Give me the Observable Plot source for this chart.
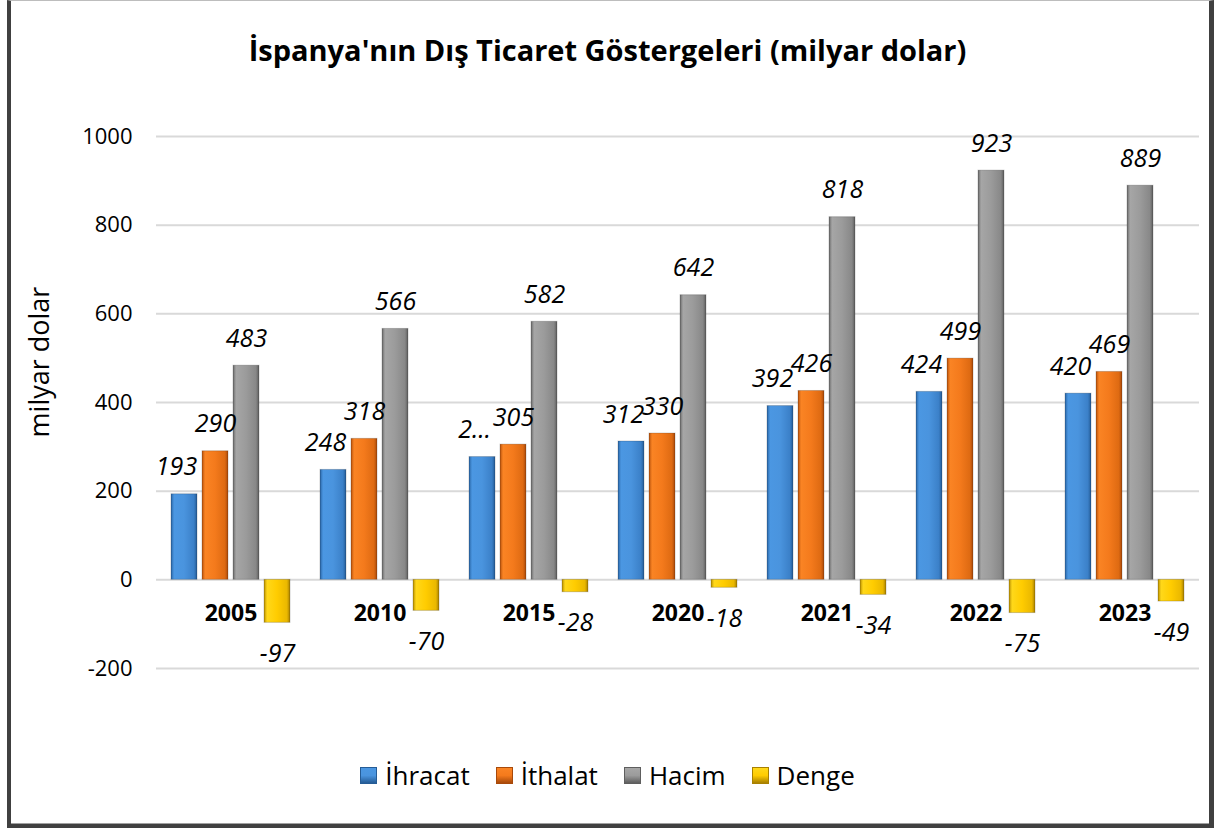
<!DOCTYPE html>
<html>
<head>
<meta charset="utf-8">
<script src="https://cdn.jsdelivr.net/npm/d3@7"></script>
<script src="https://cdn.jsdelivr.net/npm/@observablehq/plot@0.6"></script>
<style>
  html, body { margin: 0; padding: 0; background: #fff; }
  #wrap { position: relative; width: 1215px; height: 828px; overflow: hidden; font-family: "Open Sans", Lato, sans-serif; }
  #frame { position: absolute; left: 7px; top: 0; width: 1198px; height: 823px;
           border-left: 4px solid #404040; border-right: 5px solid #404040; border-bottom: 4px solid #404040;
           border-top: 1px solid #bdbdbd; box-sizing: content-box; }
  #frame .inner { position:absolute; left:0; right:0; bottom:0; height:1px; background:#a0a0a0; }
  #chart { position: absolute; left: 0; top: 0; }
  #title { position: absolute; left: 0; width: 1215px; top: 31px; line-height: 38px; text-align: center; font-weight: 700; font-size: 29px; color: #000; white-space: nowrap; }
  #ylabel { position: absolute; left: 38px; top: 362px; transform: translate(-50%, -50%) rotate(-90deg); white-space: nowrap; font-size: 27px; color:#000; }
  #legend { position: absolute; left: 0; width: 1215px; top: 758px; height: 34px; display: flex; justify-content: center; align-items: center; font-size: 26px; color: #000; }
  .item { display: flex; align-items: center; margin: 0 13px; }
  .sw { width: 17px; height: 17px; margin-right: 8px; box-sizing: border-box; }
</style>
</head>
<body>
<div id="wrap">
  <div id="frame"><div class="inner"></div></div>
  <div id="chart"></div>
  <div id="title">İspanya'nın Dış Ticaret Göstergeleri (milyar dolar)</div>
  <div id="ylabel">milyar dolar</div>
  <div id="legend"></div>
</div>
<script>
// ---- data ----
const years = ["2005", "2010", "2015", "2020", "2021", "2022", "2023"];
const series = ["İhracat", "İthalat", "Hacim", "Denge"];
const ihracat = [193, 248, 277, 312, 392, 424, 420];
const ithalat = [290, 318, 305, 330, 426, 499, 469];
const hacim   = [483, 566, 582, 642, 818, 923, 889];
const denge   = [-97, -70, -28, -18, -34, -75, -49];
const yTicks  = [-200, 0, 200, 400, 600, 800, 1000];
const truncatedLabels = [["2015", "İhracat", "2…"]];

// ---- styles ----
const gradients = {
  "İhracat": ["#2a66a6", "#4b97e2", "#4a94de", "#3b80c8", "#255c96"],
  "İthalat": ["#b8520c", "#fa8424", "#f47a1c", "#de6a12", "#a8490a"],
  "Hacim":   ["#6a6a6a", "#a6a6a6", "#9b9b9b", "#888888", "#5e5e5e"],
  "Denge":   ["#b88e00", "#ffd81a", "#ffcc00", "#eab800", "#a88000"]
};
const gradIds = series.map((s, i) => "grad" + i);
const FONT = "'Open Sans', Lato, sans-serif";

const valueArrays = [ihracat, ithalat, hacim, denge];
const rows = years.flatMap((y, i) => series.map((s, j) => ({year: y, series: s, value: valueArrays[j][i]})));
const labelOf = d => {
  const t = truncatedLabels.find(([y, s]) => y === d.year && s === d.series);
  return t ? t[2] : String(d.value);
};

const pos = rows.filter(d => d.value >= 0);
const neg = rows.filter(d => d.value < 0);

const chart = Plot.plot({
  width: 1215,
  height: 828,
  marginTop: 136,
  marginBottom: 160,
  marginLeft: 155,
  marginRight: 15,
  style: {fontFamily: FONT, fontSize: "22px", color: "#000", background: "transparent"},
  fx: {domain: years, paddingInner: 0, paddingOuter: 0, axis: null},
  x: {domain: series, paddingInner: 0.156, paddingOuter: 0.411, axis: null},
  y: {domain: [-200, 1000], axis: null},
  color: {domain: series, range: gradIds.map(id => `url(#${id})`)},
  marks: [
    Plot.ruleY(yTicks, {stroke: "#d9d9d9", strokeWidth: 2}),
    Plot.axisY(yTicks, {tickSize: 0, tickPadding: 24, fontSize: 22, label: null, anchor: "left", tickFormat: d => String(d)}),
    Plot.barY(rows, {fx: "year", x: "series", y: "value", fill: "series", stroke: "#00000030", strokeWidth: 1}),
    Plot.text(pos.filter(d => d.series === "İhracat"), {fx: "year", x: "series", y: "value", text: labelOf, dy: -27, dx: -8, fontStyle: "italic", fontSize: 25, fill: "#000"}),
    Plot.text(pos.filter(d => d.series !== "İhracat"), {fx: "year", x: "series", y: "value", text: labelOf, dy: -27, fontStyle: "italic", fontSize: 25, fill: "#000"}),
    Plot.text(neg, {fx: "year", x: "series", y: "value", text: labelOf, dy: 31, fontStyle: "italic", fontSize: 25, fill: "#000"}),
    Plot.text(years, {fx: d => d, y: () => 0, text: d => d, dy: 34, fontWeight: "bold", fontSize: 23, fill: "#000"})
  ]
});

// gradients for bevelled bars
const svg = d3.select(chart);
const defs = svg.insert("defs", ":first-child");
series.forEach((s, i) => {
  const g = defs.append("linearGradient").attr("id", gradIds[i]).attr("x1", 0).attr("x2", 1).attr("y1", 0).attr("y2", 0);
  const c = gradients[s];
  [0, 0.12, 0.5, 0.88, 1].forEach((o, k) => g.append("stop").attr("offset", o).attr("stop-color", c[k]));
});
document.getElementById("chart").appendChild(chart);

// legend
const legend = document.getElementById("legend");
series.forEach(s => {
  const c = gradients[s];
  const it = document.createElement("div");
  it.className = "item";
  const sw = document.createElement("div");
  sw.className = "sw";
  sw.style.background = `linear-gradient(to bottom, ${c[1]} 0%, ${c[2]} 50%, ${c[4]} 100%)`;
  sw.style.border = `1px solid ${c[4]}`;
  const tx = document.createElement("span");
  tx.textContent = s;
  it.appendChild(sw); it.appendChild(tx);
  legend.appendChild(it);
});
</script>
</body>
</html>
